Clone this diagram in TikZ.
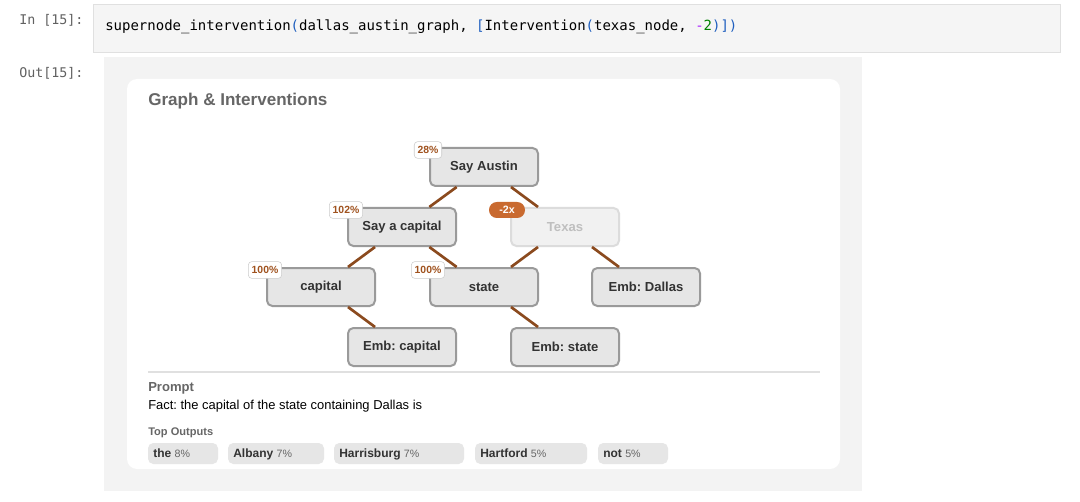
\documentclass[tikz,border=0pt]{standalone}
\usepackage{fontspec}
\setmainfont{Liberation Sans}
\setmonofont{DejaVu Sans Mono}
\usetikzlibrary{positioning}
\definecolor{cellbg}{HTML}{F5F5F5}
\definecolor{cellline}{HTML}{E0E0E0}
\definecolor{outbg}{HTML}{F3F3F3}
\definecolor{promptgray}{HTML}{616161}
\definecolor{headgray}{HTML}{666666}
\definecolor{nodefill}{HTML}{E6E6E6}
\definecolor{nodeline}{HTML}{9A9A9A}
\definecolor{nodetext}{HTML}{333333}
\definecolor{edgebrown}{HTML}{8B4A1E}
\definecolor{pctbrown}{HTML}{A0521E}
\definecolor{badge}{HTML}{C96A30}
\definecolor{codeblue}{HTML}{1F5FBF}
\definecolor{codegreen}{HTML}{008000}
\definecolor{codepurple}{HTML}{AA22FF}
\frenchspacing

\begin{document}
\begin{tikzpicture}[x=0.75pt, y=-0.75pt,
  gnode/.style={draw=nodeline, fill=nodefill, line width=1.5pt, rounded corners=4pt,
    minimum width=81pt, minimum height=28.5pt, text=nodetext,
    font=\bfseries\fontsize{9.8}{11}\selectfont},
  faded/.style={gnode, draw=nodeline!35, fill=nodefill!55, text=black!25},
  link/.style={edgebrown, line width=2pt},
  pct/.style={draw=black!20, fill=white, rounded corners=2.5pt, text=pctbrown,
    minimum height=12.5pt, inner xsep=2.5pt, inner ysep=0pt, font=\bfseries\fontsize{7.8}{8}\selectfont},
  chip/.style={fill=nodefill, rounded corners=4pt},
  txt/.style={anchor=west, inner sep=0pt}]
\useasboundingbox (0,0) rectangle (1080,502);
\fill[white] (0,0) rectangle (1080,502);

% notebook cell
\draw[cellline, fill=cellbg] (93,4) rectangle (1060,52);
\node[txt, text=promptgray, font=\ttfamily\fontsize{10}{12}\selectfont] (in) at (19,20) {In [15]:};
\node[txt, font=\ttfamily\fontsize{10.5}{12}\selectfont] (code) at (105,27)
 {supernode\_intervention\textcolor{codeblue}{(}dallas\_austin\_graph, \textcolor{codeblue}{[}Intervention\textcolor{codeblue}{(}texas\_node, \textcolor{codepurple}{-}\textcolor{codegreen}{2}\textcolor{codeblue}{)])}};
\node[txt, text=promptgray, font=\ttfamily\fontsize{10}{12}\selectfont] (out) at (19,73) {Out[15]:};

% output area and card
\fill[outbg] (104,57) rectangle (862,491);
\fill[white, rounded corners=7.5pt] (127,79) rectangle (840,469);
\node[txt, text=headgray, font=\bfseries\fontsize{12.8}{14}\selectfont] (title) at (148,101) {Graph \& Interventions};

% graph
\node[gnode] (sa) at (484,167) {Say Austin};
\node[gnode] (sc) at (402,227) {Say a capital};
\node[faded] (tx) at (565,227) {Texas};
\node[gnode] (cap) at (321,287) {capital};
\node[gnode] (st) at (484,287) {state};
\node[gnode] (ed) at (646,287) {Emb: Dallas};
\node[gnode] (ec) at (402,347) {Emb: capital};
\node[gnode] (es) at (565,347) {Emb: state};

\foreach \a/\b in {sa/sc, sa/tx, sc/cap, sc/st, tx/st, tx/ed, cap/ec, st/es}
  \draw[link] (\a) -- (\b);

\node[pct] (p1) at ([shift={(-1,3)}]sa.north west) {28\%};
\node[pct] (p2) at ([shift={(-1,3)}]sc.north west) {102\%};
\node[pct] (p3) at ([shift={(-1,3)}]cap.north west) {100\%};
\node[pct] (p4) at ([shift={(-1,3)}]st.north west) {100\%};
\node[fill=badge, rounded corners=5.9pt, text=white, minimum width=27pt, minimum height=12pt,
  inner sep=0pt, font=\bfseries\fontsize{8}{8}\selectfont] (x2) at ([shift={(-3,3)}]tx.north west) {-2x};

% prompt and outputs
\draw[black!12, line width=1pt] (148,372) -- (820,372);
\node[txt, text=headgray, font=\bfseries\fontsize{9.8}{11}\selectfont] (ph) at (148,388) {Prompt};
\node[txt, font=\fontsize{9.7}{11}\selectfont] (pt) at (148,406) {Fact: the capital of the state containing Dallas is};
\node[txt, text=headgray, font=\bfseries\fontsize{8.3}{9}\selectfont] (th) at (148,433) {Top Outputs};
\foreach \xa/\xb/\w/\p in {148/218/the/8\%, 228/324/Albany/7\%, 334/464/Harrisburg/7\%, 475/587/Hartford/5\%, 598/668/not/5\%} {
  \fill[chip] (\xa,443) rectangle (\xb,464);
  \node[txt, anchor=base west, text=nodetext] at (\xa+5,457.5) {\bfseries\fontsize{9}{10}\selectfont \w{} \mdseries\color{headgray}\fontsize{8}{9}\selectfont\p};
}
\end{tikzpicture}
\end{document}
